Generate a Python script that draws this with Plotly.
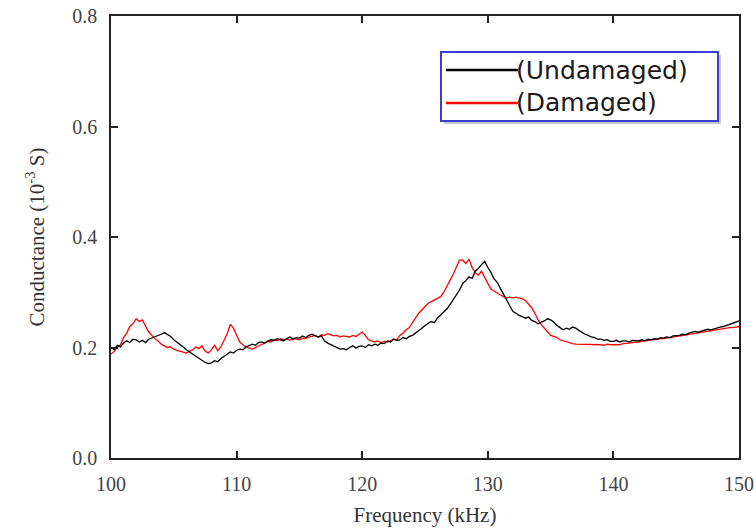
import numpy as np
import plotly.graph_objects as go

# Frequency sweep, 100-150 kHz in 0.25 kHz steps
freq_khz = np.linspace(100, 150, 201)

# Conductance (10^-3 S), undamaged specimen
undamaged = [
    0.200, 0.196, 0.204, 0.201, 0.208, 0.212, 0.209, 0.215,
    0.214, 0.210, 0.213, 0.209, 0.215, 0.217, 0.220, 0.222,
    0.224, 0.227, 0.223, 0.220, 0.214, 0.210, 0.206, 0.201,
    0.196, 0.192, 0.189, 0.185, 0.181, 0.176, 0.173, 0.171,
    0.172, 0.176, 0.174, 0.180, 0.184, 0.189, 0.192, 0.190,
    0.195, 0.197, 0.196, 0.201, 0.203, 0.206, 0.204, 0.209,
    0.210, 0.208, 0.212, 0.214, 0.213, 0.216, 0.214, 0.212,
    0.216, 0.219, 0.215, 0.218, 0.217, 0.221, 0.218, 0.222,
    0.224, 0.222, 0.219, 0.221, 0.212, 0.208, 0.205, 0.202,
    0.200, 0.197, 0.198, 0.196, 0.200, 0.203, 0.199, 0.202,
    0.203, 0.200, 0.205, 0.203, 0.206, 0.204, 0.208, 0.207,
    0.212, 0.210, 0.215, 0.213, 0.214, 0.218, 0.216, 0.220,
    0.222, 0.226, 0.230, 0.235, 0.240, 0.243, 0.247, 0.245,
    0.254, 0.259, 0.265, 0.270, 0.278, 0.287, 0.296, 0.304,
    0.316, 0.321, 0.328, 0.325, 0.338, 0.343, 0.350, 0.356,
    0.345, 0.336, 0.324, 0.318, 0.307, 0.296, 0.286, 0.274,
    0.265, 0.262, 0.258, 0.256, 0.253, 0.255, 0.249, 0.247,
    0.243, 0.246, 0.248, 0.252, 0.250, 0.246, 0.240, 0.236,
    0.232, 0.235, 0.233, 0.237, 0.235, 0.231, 0.227, 0.224,
    0.222, 0.219, 0.218, 0.215, 0.215, 0.213, 0.214, 0.211,
    0.211, 0.213, 0.210, 0.212, 0.212, 0.210, 0.213, 0.212,
    0.212, 0.214, 0.212, 0.215, 0.214, 0.216, 0.215, 0.218,
    0.217, 0.219, 0.218, 0.221, 0.221, 0.222, 0.224, 0.223,
    0.226, 0.227, 0.229, 0.228, 0.230, 0.231, 0.233, 0.232,
    0.234, 0.236, 0.237, 0.238, 0.240, 0.241, 0.243, 0.245,
    0.248,
]

# Conductance (10^-3 S), damaged specimen
damaged = [
    0.188, 0.193, 0.200, 0.205, 0.218, 0.226, 0.238, 0.243,
    0.252, 0.247, 0.250, 0.240, 0.228, 0.222, 0.216, 0.212,
    0.206, 0.203, 0.200, 0.201, 0.197, 0.195, 0.193, 0.192,
    0.190, 0.193, 0.196, 0.201, 0.198, 0.203, 0.193, 0.190,
    0.196, 0.204, 0.194, 0.201, 0.212, 0.225, 0.242, 0.235,
    0.222, 0.210, 0.205, 0.201, 0.199, 0.197, 0.200, 0.203,
    0.205, 0.208, 0.211, 0.210, 0.214, 0.212, 0.216, 0.214,
    0.215, 0.213, 0.217, 0.215, 0.214, 0.217, 0.216, 0.219,
    0.220, 0.222, 0.219, 0.223, 0.222, 0.225, 0.223, 0.221,
    0.222, 0.219, 0.221, 0.220, 0.219, 0.222, 0.220, 0.224,
    0.228, 0.222, 0.214, 0.212, 0.210, 0.212, 0.209, 0.211,
    0.210, 0.212, 0.215, 0.214, 0.222, 0.226, 0.232, 0.236,
    0.245, 0.255, 0.262, 0.268, 0.275, 0.280, 0.283, 0.286,
    0.288, 0.292, 0.300, 0.310, 0.322, 0.333, 0.345, 0.358,
    0.358, 0.352, 0.360, 0.345, 0.335, 0.331, 0.338, 0.326,
    0.316, 0.306, 0.302, 0.298, 0.295, 0.292, 0.290, 0.291,
    0.290, 0.291, 0.290, 0.288, 0.285, 0.279, 0.272, 0.262,
    0.250, 0.242, 0.235, 0.229, 0.222, 0.220, 0.218, 0.214,
    0.212, 0.210, 0.208, 0.207, 0.206, 0.206, 0.205, 0.206,
    0.205, 0.205, 0.206, 0.205, 0.205, 0.204, 0.206, 0.205,
    0.205, 0.206, 0.205, 0.207, 0.207, 0.208, 0.209, 0.209,
    0.210, 0.211, 0.212, 0.212, 0.213, 0.214, 0.215, 0.216,
    0.216, 0.217, 0.218, 0.219, 0.220, 0.221, 0.222, 0.223,
    0.224, 0.225, 0.226, 0.227, 0.228, 0.229, 0.230, 0.231,
    0.232, 0.233, 0.234, 0.234, 0.235, 0.236, 0.236, 0.237,
    0.238,
]

series_names = ["(Undamaged)", "(Damaged)"]
series_colors = ["#000000", "#ff0000"]

x_ticks = [100, 110, 120, 130, 140, 150]
y_ticks = [0.0, 0.2, 0.4, 0.6, 0.8]
y_tick_text = ["0.0", "0.2", "0.4", "0.6", "0.8"]

W, H = 756, 528
ML, MR, MT, MB = 111, 17, 16, 70
PW, PH = W - ML - MR, H - MT - MB


def px(xp):
    return (xp - ML) / PW


def py(yp):
    return (H - MB - yp) / PH


fig = go.Figure()
for name, vals, col in [
    (series_names[1], damaged, series_colors[1]),
    (series_names[0], undamaged, series_colors[0]),
]:
    fig.add_trace(go.Scatter(
        x=freq_khz, y=vals, mode="lines", name=name,
        line=dict(color=col, width=1.3), showlegend=False,
    ))

serif = "Liberation Serif, Times New Roman, DejaVu Serif, serif"
axis_common = dict(
    showline=True, linecolor="#222", linewidth=1.6, mirror="ticks",
    ticks="inside", ticklen=7, tickwidth=1.6, tickcolor="#222",
    showgrid=False, zeroline=False, automargin=False,
    tickfont=dict(family=serif, size=20, color="#444"),
)

fig.update_xaxes(
    range=[100, 150], tickvals=x_ticks, ticklabelstandoff=7,
    title=dict(text="Frequency (kHz)", font=dict(family=serif, size=21, color="#333"), standoff=14),
    **axis_common,
)
fig.update_yaxes(
    range=[0, 0.8], tickvals=y_ticks, ticktext=y_tick_text, ticklabelstandoff=8,
    title=dict(text="Conductance (10<sup>-3</sup> S)", font=dict(family=serif, size=21, color="#333"), standoff=22),
    **axis_common,
)

# Legend box: drop shadow, blue frame, line samples and labels
shapes = [
    dict(type="rect", xref="paper", yref="paper",
         x0=px(444), x1=px(721), y0=py(124), y1=py(55),
         fillcolor="#c8c8c8", line=dict(width=0), layer="above"),
    dict(type="rect", xref="paper", yref="paper",
         x0=px(441), x1=px(718), y0=py(121), y1=py(52),
         fillcolor="white", line=dict(color="#3b3bd6", width=2), layer="above"),
]
annotations = []
for i, (name, col) in enumerate(zip(series_names, series_colors)):
    yl = 70 + i * 33
    shapes.append(dict(type="line", xref="paper", yref="paper",
                       x0=px(446), x1=px(518), y0=py(yl), y1=py(yl),
                       line=dict(color=col, width=2.5), layer="above"))
    annotations.append(dict(
        xref="paper", yref="paper", x=px(514), y=py(yl),
        xanchor="left", yanchor="middle", showarrow=False, text=name,
        font=dict(family="DejaVu Sans", size=25, color="#1a1a1a"),
    ))

fig.update_layout(
    width=W, height=H,
    margin=dict(l=ML, r=MR, t=MT, b=MB),
    paper_bgcolor="white", plot_bgcolor="white",
    shapes=shapes, annotations=annotations,
)

fig.write_html("out.html")
